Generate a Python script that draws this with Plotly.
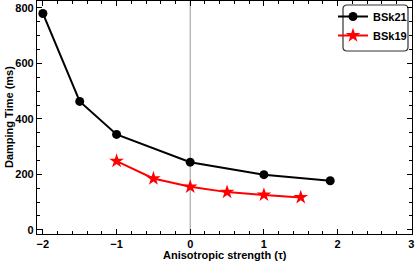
import plotly.graph_objects as go

bsk21_x = [-2, -1.5, -1, 0, 1, 1.9]
bsk21_y = [780, 463, 344, 244, 199, 177]
bsk19_x = [-1, -0.5, 0, 0.5, 1, 1.5]
bsk19_y = [248, 185, 155, 136, 126, 117]
x_ticks = [-2, -1, 0, 1, 2, 3]
y_ticks = [0, 200, 400, 600, 800]

FONT = "Liberation Sans"
W, H = 415, 265
L, R, T, B = 37, 412, 1, 234   # plot area in pixels

def px(x): return (x - L) / (R - L)
def py(y): return 1 - (y - T) / (B - T)

fig = go.Figure()
fig.add_trace(go.Scatter(x=bsk21_x, y=bsk21_y, mode="lines+markers", name="<b>BSk21</b>",
                         line=dict(color="black", width=2),
                         marker=dict(symbol="circle", size=9, color="black")))
fig.add_trace(go.Scatter(x=bsk19_x, y=bsk19_y, mode="lines+markers", name="<b>BSk19</b>",
                         line=dict(color="#ff0000", width=2),
                         marker=dict(symbol="star", size=11, color="#ff0000")))

fig.add_shape(type="line", xref="x", yref="paper", x0=0, x1=0, y0=0, y1=1,
              line=dict(color="#aaaaaa", width=1.2), layer="below")

# rounded legend box
x0, x1, y0, y1 = 343, 408, 5, 51
r = 4
path = (f"M {px(x0+r)},{py(y0)} L {px(x1-r)},{py(y0)} Q {px(x1)},{py(y0)} {px(x1)},{py(y0+r)} "
        f"L {px(x1)},{py(y1-r)} Q {px(x1)},{py(y1)} {px(x1-r)},{py(y1)} "
        f"L {px(x0+r)},{py(y1)} Q {px(x0)},{py(y1)} {px(x0)},{py(y1-r)} "
        f"L {px(x0)},{py(y0+r)} Q {px(x0)},{py(y0)} {px(x0+r)},{py(y0)} Z")
fig.add_shape(type="path", xref="paper", yref="paper", path=path,
              line=dict(color="#333333", width=1.2), fillcolor="white", layer="below")

axis_common = dict(showline=True, linecolor="black", linewidth=1.2, mirror="allticks",
                   ticks="inside", ticklen=5, tickwidth=1, tickcolor="black",
                   showgrid=False, zeroline=False, automargin=False,
                   tickfont=dict(family=FONT, size=11, color="black"))
fig.update_xaxes(**axis_common, range=[-2.08, 3.01], tickvals=x_ticks,
                 ticktext=["<b>%s</b>" % (str(v).replace("-", "−")) for v in x_ticks],
                 minor=dict(dtick=0.2, tick0=0, ticks="inside", ticklen=3, tickcolor="black"))
fig.update_yaxes(**axis_common, range=[-15, 825], tickvals=y_ticks,
                 ticktext=["<b>%d</b>" % v for v in y_ticks],
                 minor=dict(dtick=50, tick0=0, ticks="inside", ticklen=3, tickcolor="black"))

fig.add_annotation(text="<b>Anisotropic strength (τ)</b>", xref="paper", yref="paper",
                   x=px(225), y=py(255), xanchor="center", yanchor="middle", showarrow=False,
                   font=dict(family=FONT, size=11, color="black"))
fig.add_annotation(text="<b>Damping Time (ms)</b>", xref="paper", yref="paper",
                   x=px(9), y=py(117), xanchor="center", yanchor="middle", showarrow=False,
                   textangle=-90, font=dict(family=FONT, size=11, color="black"))

fig.update_layout(width=W, height=H, margin=dict(l=L, r=W - R, t=T, b=H - B, autoexpand=False),
                  paper_bgcolor="white", plot_bgcolor="white",
                  font=dict(family=FONT, size=11, color="black"),
                  legend=dict(x=px(333), y=py(2), xanchor="left", yanchor="top",
                              bgcolor="rgba(0,0,0,0)", borderwidth=0,
                              font=dict(family=FONT, size=11, color="black"),
                              itemwidth=30, tracegroupgap=0))
fig.write_html("out.html", config={"displayModeBar": False},
               post_script="document.body.style.margin='0';document.body.style.overflow='hidden';")
